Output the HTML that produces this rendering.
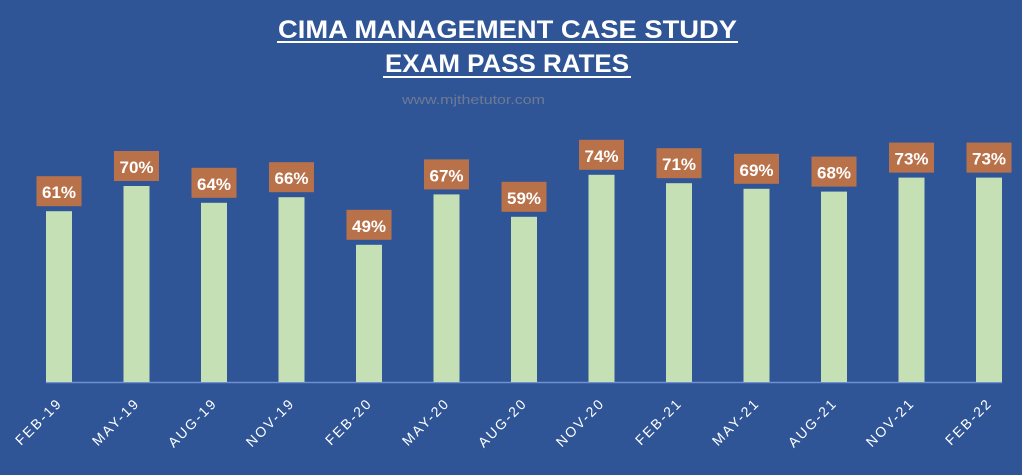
<!DOCTYPE html>
<html><head><style>
body{margin:0;width:1022px;height:470px;background:#2f5597;overflow:hidden;font-family:"Liberation Sans",sans-serif}
</style></head><body>
<svg width="1022" height="470" xmlns="http://www.w3.org/2000/svg">
<rect width="1022" height="470" fill="#2f5597"/>
<text x="278" y="38" textLength="459" lengthAdjust="spacingAndGlyphs" fill="#fff" font-weight="bold" font-size="25">CIMA MANAGEMENT CASE STUDY</text>
<line x1="277" y1="42" x2="738" y2="42" stroke="#fff" stroke-width="2"/>
<text x="385" y="72" textLength="244" lengthAdjust="spacingAndGlyphs" fill="#fff" font-weight="bold" font-size="25">EXAM PASS RATES</text>
<line x1="383" y1="77" x2="631" y2="77" stroke="#fff" stroke-width="2"/>
<text x="402" y="104" textLength="143" lengthAdjust="spacingAndGlyphs" fill="#6e7a94" font-size="13">www.mjthetutor.com</text>
<line x1="46" y1="382.5" x2="1002" y2="382.5" stroke="#6f8fd0" stroke-width="1.5"/>
<g id="bars"></g>
</svg>
<script>
var d=[["FEB-19",61],["MAY-19",70],["AUG-19",64],["NOV-19",66],["FEB-20",49],["MAY-20",67],["AUG-20",59],["NOV-20",74],["FEB-21",71],["MAY-21",69],["AUG-21",68],["NOV-21",73],["FEB-22",73]];
var s="";
d.forEach(function(e,i){var cx=59+i*77.5,h=e[1]*2.8,top=382-h;
s+='<rect x="'+(cx-13)+'" y="'+top+'" width="26" height="'+h+'" fill="#c5e0b4"/>';
s+='<rect x="'+(cx-22.5)+'" y="'+(top-35)+'" width="45" height="30" fill="#b9714a"/>';
s+='<text x="'+cx+'" y="'+(top-13)+'" text-anchor="middle" fill="#fff" font-weight="bold" font-size="17">'+e[1]+'%</text>';
s+='<text transform="translate('+(cx+4)+',404) rotate(-45)" text-anchor="end" fill="#fff" font-size="14" letter-spacing="2">'+e[0]+'</text>';});
document.getElementById("bars").innerHTML=s;
</script>
</body></html>
